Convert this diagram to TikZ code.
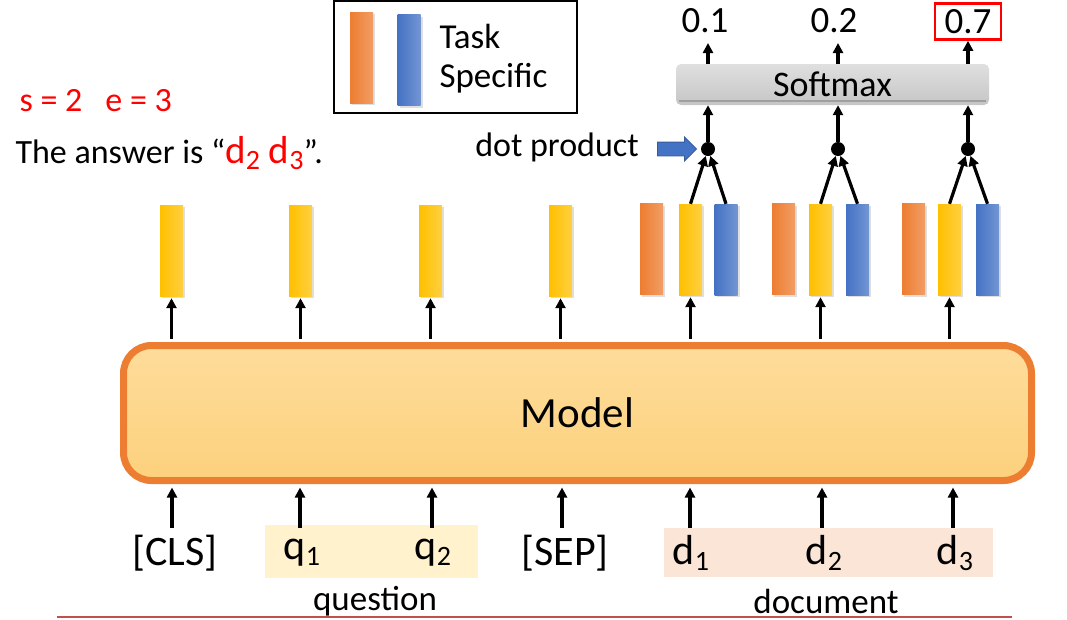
\documentclass[tikz,border=0pt]{standalone}
\usepackage{fontspec}
\setmainfont{Carlito}
\usetikzlibrary{arrows.meta,shapes.arrows,shadows}

\definecolor{taskorange}{HTML}{ED7D31}
\definecolor{taskblue}{HTML}{4472C4}
\definecolor{vecyellow}{HTML}{FFC000}
\definecolor{modeltop}{HTML}{FEDC9B}
\definecolor{modelbot}{HTML}{FCD17D}
\definecolor{qbg}{HTML}{FFF2CC}
\definecolor{dbg}{HTML}{FBE5D6}
\definecolor{linered}{HTML}{C0504D}

\newcommand{\fsz}[1]{\fontsize{#1}{#1}\selectfont}
\newcommand{\tsub}[2]{\raisebox{-0.3ex}{\fsz{#1}#2}}

\tikzset{
  bar/.style={minimum width=23pt, minimum height=91pt, inner sep=0pt,
    left color=#1, right color=#1!75!white,
    drop shadow={shadow xshift=2pt, shadow yshift=-2pt, opacity=.25}},
  up/.style={-{Triangle[width=10pt,length=10pt]}, line width=3.2pt},
  token/.style={font=\fsz{42}, inner sep=0pt}
}

\begin{document}
\begin{tikzpicture}[x=1pt,y=-1pt]
\useasboundingbox (0,0) rectangle (1067,619);

% legend
\node[draw=black, line width=2pt, minimum width=243pt, minimum height=112pt] (legend) at (455,57) {};
\node[bar=taskorange] (lo) at (361.5,57.5) {};
\node[bar=taskblue] (lb) at (409,60) {};
\node[anchor=west, font=\fsz{35}] (task) at (436,36) {Task};
\node[anchor=west, font=\fsz{35}] (spec) at (436,78) {Specific};

% answer text
\node[anchor=west, font=\fsz{34}, text=red] (se) at (16,101) {s = 2 \ \ e = 3};
\node[anchor=west, font=\fsz{34}] (ans) at (12,153)
  {The answer is ``\textcolor{red}{\fsz{39}d\tsub{28}{2} d\tsub{28}{3}}''.};

% backgrounds of the input parts
\node[fill=qbg, minimum width=213pt, minimum height=53pt] (qbox) at (371.5,551.5) {};
\node[fill=dbg, minimum width=329pt, minimum height=49pt] (dbox) at (828.5,552.5) {};
\node[font=\fsz{35}] (qlab) at (375,601) {question};
\node[font=\fsz{35}] (dlab) at (826,601) {document};
\draw[linered, line width=2.5pt] (57,617) -- (1012,617);

% model
\node[draw=taskorange, line width=7pt, rounded corners=28pt,
      top color=modeltop, bottom color=modelbot,
      minimum width=908pt, minimum height=135pt, font=\fsz{43}] (model) at (577.5,413) {Model};

% input tokens
\foreach \n/\x/\t in {cls/175/{[CLS]}, q1/302/{q\tsub{28}{1}}, q2/433/{q\tsub{28}{2}},
                      sep/565/{[SEP]}, d1/691/{d\tsub{28}{1}}, d2/824/{d\tsub{28}{2}}, d3/955/{d\tsub{28}{3}}}
  \node[token] (t\n) at (\x,553) {\t};
\foreach \n/\x in {cls/172, q1/300, q2/432, sep/562, d1/690, d2/822, d3/953} {
  \coordinate (a\n) at (\x,528);
  \draw[up] (a\n) -- ([yshift=-3.5pt]a\n |- model.south);
}

% output vectors
\foreach \n/\x in {cls/171.5, q1/300.5, q2/430.5, sep/560.5}
  \node[bar=vecyellow] (v\n) at (\x,250.5) {};
\node[bar=taskorange] (o1) at (651.5,249) {};
\node[bar=vecyellow]  (y1) at (690.5,249.5) {};
\node[bar=taskblue]   (b1) at (726,249.5) {};
\node[bar=taskorange] (o2) at (783.5,249) {};
\node[bar=vecyellow]  (y2) at (820.5,249.5) {};
\node[bar=taskblue]   (b2) at (857.5,249.5) {};
\node[bar=taskorange] (o3) at (913.5,249) {};
\node[bar=vecyellow]  (y3) at (949.5,249.5) {};
\node[bar=taskblue]   (b3) at (987.5,249.5) {};
\foreach \n in {cls, q1, q2, sep}
  \draw[up] ([yshift=3.5pt]v\n |- model.north) -- ([yshift=-2pt]v\n.south);
\foreach \n in {1,2,3}
  \draw[up] ([yshift=3.5pt]y\n |- model.north) -- ([yshift=-2pt]y\n.south);

% dot products
\node[circle, fill=black, inner sep=0pt, minimum size=14pt] (dot1) at (708,149) {};
\node[circle, fill=black, inner sep=0pt, minimum size=14pt] (dot2) at (838,149) {};
\node[circle, fill=black, inner sep=0pt, minimum size=14pt] (dot3) at (968,149) {};
\foreach \n in {1,2,3} {
  \draw[up] (y\n.north) -- (dot\n);
  \draw[up] (b\n.north) -- (dot\n);
}
\node[font=\fsz{34}] (dotlab) at (557,147) {dot product};
\node[single arrow, fill=taskblue, draw=taskblue!80!black, line width=.8pt,
      minimum height=39pt, inner sep=6.5pt, single arrow head extend=5pt,
      single arrow head indent=0pt] (dotarr) at (673.5,149) {};

% softmax
\node[rounded corners=5pt, top color=gray!25, bottom color=gray!45,
      minimum width=313pt, minimum height=41pt, font=\fsz{36}] (soft) at (832.5,84.5) {Softmax};
\draw[gray!75, line width=2pt] ([xshift=3pt,yshift=4pt]soft.south west) -- ([xshift=-3pt,yshift=4pt]soft.south east);
\foreach \n in {1,2,3}
  \draw[up] (dot\n) -- (dot\n |- soft.south);

% probabilities
\node[font=\fsz{37}] (p1) at (705,21) {0.1};
\node[font=\fsz{37}] (p2) at (834,21) {0.2};
\node[font=\fsz{37}, draw=red, line width=2.5pt, inner sep=0pt,
      minimum width=66pt, minimum height=36pt] (p3) at (968,21.5) {0.7};
\draw[up] (dot1 |- soft.north) -- (708,43);
\draw[up] (dot2 |- soft.north) -- (838,43);
\draw[up] (dot3 |- soft.north) -- (p3.south -| dot3);
\end{tikzpicture}
\end{document}
